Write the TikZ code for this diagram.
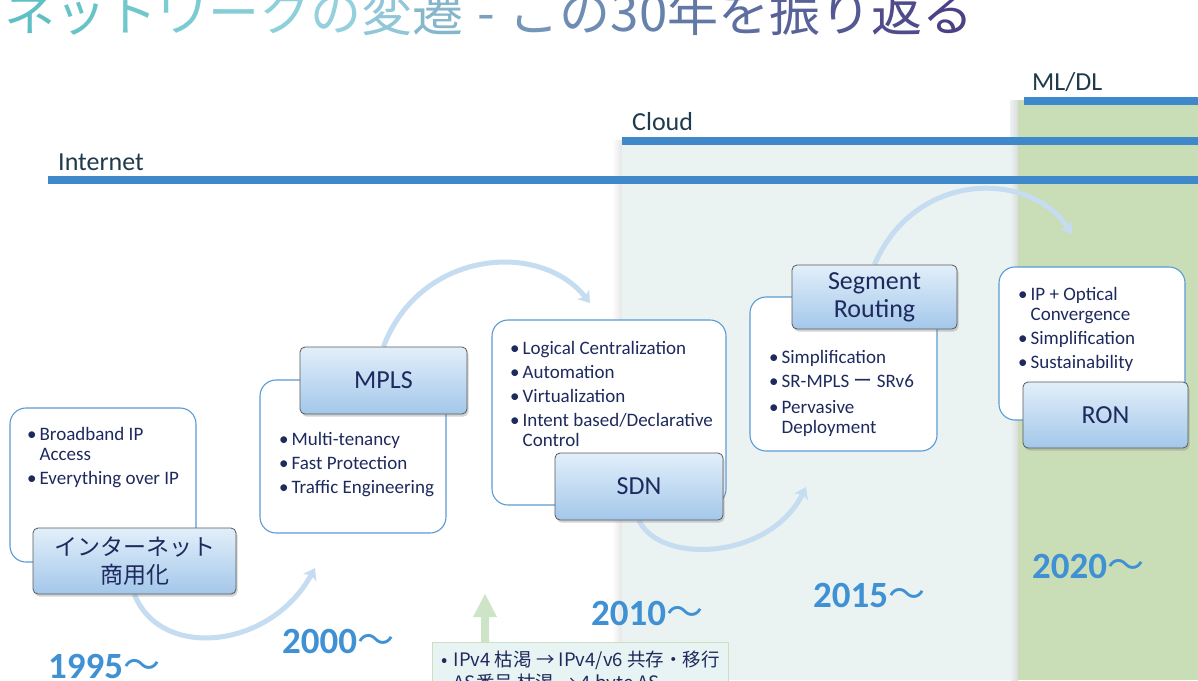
\documentclass[tikz,border=0pt]{standalone}
\usepackage{fontspec}
\setmainfont{Carlito}
\newfontfamily\jp{Noto Sans CJK JP}
\usetikzlibrary{shadows,arrows.meta}
\definecolor{cloudbg}{HTML}{EAF3F2}
\definecolor{mlbg}{HTML}{C9DDB6}
\definecolor{lineblue}{HTML}{3F88C9}
\definecolor{boxblue}{HTML}{5B9BD5}
\definecolor{navy}{HTML}{1E2A5E}
\definecolor{headtext}{HTML}{1F3A4C}
\definecolor{labtop}{HTML}{E2EFFA}
\definecolor{labbot}{HTML}{A3C7EA}
\definecolor{arrowblue}{HTML}{C6DCF1}
\definecolor{yearblue}{HTML}{3F91D4}
\definecolor{ipvbg}{HTML}{E8F3F3}
\definecolor{ipvborder}{HTML}{C9E0C2}
\definecolor{upgreen}{HTML}{CDE5C6}
\newcommand\tc[2]{\textcolor[HTML]{#1}{#2}}
\pgfdeclarelayer{bglayer}
\pgfdeclarelayer{arrlayer}
\pgfsetlayers{bglayer,arrlayer,main}
\tikzset{
  wbox/.style={draw=boxblue, line width=1.1pt, fill=white, rounded corners=16pt, inner sep=0pt},
  labbox/.style={draw=black!65, line width=0.8pt, rounded corners=5pt, top color=labtop, bottom color=labbot,
    drop shadow={opacity=0.35, shadow xshift=1.5pt, shadow yshift=-2.5pt},
    text=navy, align=center, inner sep=0pt, font=\fontsize{26}{28}\selectfont},
  lst/.style={anchor=north west, inner sep=0pt, text=navy, font=\fontsize{19}{20}\selectfont},
  arrc/.style={draw=arrowblue, line width=5pt, -{Stealth[length=11pt,width=15pt,inset=3pt]}},
  yr/.style={anchor=base west, inner sep=0pt, text=yearblue, font=\fontsize{37}{40}\selectfont\bfseries},
  era/.style={anchor=west, inner sep=0pt, text=headtext, font=\fontsize{26}{28}\selectfont},
  eraline/.style={draw=lineblue, line width=8pt}
}
\newcommand\wave{{\jp\mdseries 〜}}
\begin{document}
\begin{tikzpicture}[x=1pt,y=-1pt]
\useasboundingbox (0,0) rectangle (1198,680);
\begin{pgfonlayer}{bglayer}
\fill[white] (0,0) rectangle (1198,680);
% backgrounds
\shade[left color=white, right color=black!10] (612,140) rectangle (622,680);
\fill[cloudbg] (622,140) rectangle (1018,680);
\shade[left color=cloudbg, right color=black!14] (1010,100) rectangle (1018,680);
\fill[mlbg] (1018,100) rectangle (1198,680);
% title
\node[anchor=base west, inner sep=0pt, font=\jp\fontsize{51}{51}\selectfont] (title) at (4,31)
 {\tc{5FBFC4}{ネ}\tc{66C4C9}{ッ}\tc{70C8CD}{ト}\tc{7ACBD2}{ワ}\tc{85CDD6}{ー}\tc{8ED0DA}{ク}\tc{95D0DD}{の}\tc{90C6D8}{変}\tc{86B6CC}{遷}\hspace{14pt}\tc{7AA0BF}{-}\hspace{14pt}\tc{7496B9}{こ}\tc{6F8DB3}{の}\tc{6A86AE}{3}\tc{6682AB}{0}\tc{6278A5}{年}\tc{5D6EA0}{を}\tc{586299}{振}\tc{545893}{り}\tc{504C8C}{返}\tc{4A4285}{る}};
% era lines
\coordinate (i0) at (48,180); \coordinate (i1) at (1198,180);
\coordinate (c0) at (622,141); \coordinate (c1) at (1198,141);
\coordinate (m0) at (1024,101); \coordinate (m1) at (1198,101);
\draw[eraline] (i0) -- (i1);
\draw[eraline] (c0) -- (c1);
\draw[eraline] (m0) -- (m1);
\node[era] (internet) at (58,162) {Internet};
\node[era] (cloud) at (632,122) {Cloud};
\node[era] (mldl) at (1032,82) {ML/DL};
% white boxes
\node[wbox, minimum width=186pt, minimum height=154pt] (b1) at (103,485) {};
\node[wbox, minimum width=186pt, minimum height=153pt] (b2) at (353,456.5) {};
\node[wbox, minimum width=234pt, minimum height=185pt] (b3) at (609,412.5) {};
\node[wbox, minimum width=187pt, minimum height=154pt] (b4) at (843.5,374) {};
\node[wbox, minimum width=186pt, minimum height=153pt] (b5) at (1092,343.5) {};
% lists
\node[lst] (t1) at (27,426) {\begin{tabular}{@{}l@{\hspace{3pt}}l@{}}\textbullet & Broadband IP\\ & Access\\[4pt] \textbullet & Everything over IP\end{tabular}};
\node[lst] (t2) at (279,431) {\begin{tabular}{@{}l@{\hspace{3pt}}l@{}}\textbullet & Multi-tenancy\\[4pt] \textbullet & Fast Protection\\[4pt] \textbullet & Traffic Engineering\end{tabular}};
\node[lst] (t3) at (510,340) {\begin{tabular}{@{}l@{\hspace{3pt}}l@{}}\textbullet & Logical Centralization\\[4pt] \textbullet & Automation\\[4pt] \textbullet & Virtualization\\[4pt] \textbullet & Intent based/Declarative\\ & Control\end{tabular}};
\node[lst] (t4) at (769,349) {\begin{tabular}{@{}l@{\hspace{3pt}}l@{}}\textbullet & Simplification\\[4pt] \textbullet & SR-MPLS {\jp ー} SRv6\\[6pt] \textbullet & Pervasive\\ & Deployment\end{tabular}};
\node[lst] (t5) at (1018,286) {\begin{tabular}{@{}l@{\hspace{3pt}}l@{}}\textbullet & IP + Optical\\ & Convergence\\[4pt] \textbullet & Simplification\\[4pt] \textbullet & Sustainability\end{tabular}};
\end{pgfonlayer}
% arrow tips
\coordinate (e1) at (315,568);
\coordinate (e2) at (590,303);
\coordinate (e3) at (806,487);
\coordinate (e4) at (1072,234);
% labels
\node[labbox, minimum width=203pt, minimum height=66pt, font=\jp\fontsize{23}{28}\selectfont] (inet) at (134.5,561) {インターネット\\商用化};
\node[labbox, minimum width=167pt, minimum height=67pt] (mpls) at (383.5,380.5) {MPLS};
\node[labbox, minimum width=168pt, minimum height=67pt] (sdn) at (639,486.5) {SDN};
\node[labbox, minimum width=165pt, minimum height=64pt] (sr) at (874.5,297) {Segment\\Routing};
\node[labbox, minimum width=165pt, minimum height=66pt] (ron) at (1105.5,415) {RON};
% arrows
\begin{pgfonlayer}{arrlayer}
\draw[arrc] (inet.south) .. controls (160,660) and (270,650) .. (e1);
\draw[arrc] (mpls.north) .. controls (420,250) and (540,240) .. (e2);
\draw[arrc] (sdn.south) .. controls (660,565) and (770,560) .. (e3);
\draw[arrc] (sr.north) .. controls (915,170) and (1030,170) .. (e4);
\end{pgfonlayer}
% years
\node[yr] (y1995) at (48,678) {1995\wave};
\node[yr] (y2000) at (282,653) {2000\wave};
\node[yr] (y2010) at (591,625) {2010\wave};
\node[yr] (y2015) at (813,607) {2015\wave};
\node[yr] (y2020) at (1032,578) {2020\wave};
% up arrow and IPv4 box
\fill[upgreen] (481,642) -- (481,617) -- (473,617) -- (485,594) -- (497,617) -- (489,617) -- (489,642) -- cycle;
\node[anchor=north west, draw=ipvborder, line width=1pt, fill=ipvbg, inner xsep=7pt, inner ysep=6pt, minimum width=296pt, minimum height=60pt, align=left, text=navy, font=\jp\fontsize{18.5}{23}\selectfont] (ipv) at (432,642)
 {\textbullet\hspace{6pt}IPv4 枯渇 → IPv4/v6 共存・移行\\\textbullet\hspace{6pt}AS番号 枯渇 → 4 byte AS};
\end{tikzpicture}
\end{document}
